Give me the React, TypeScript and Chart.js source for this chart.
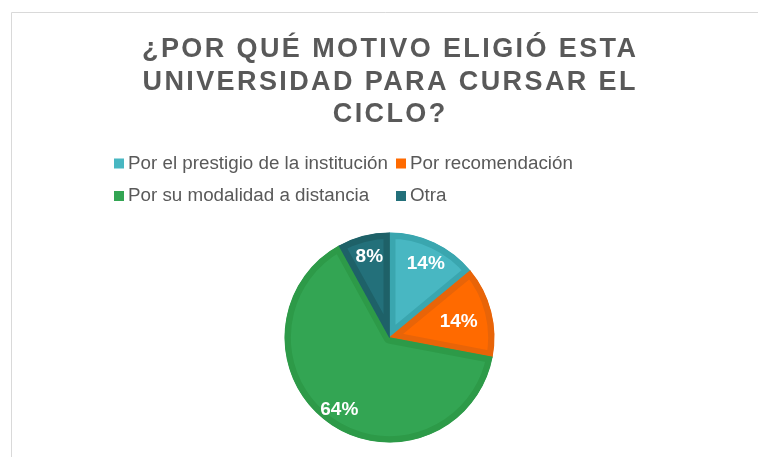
import React, { useEffect, useRef } from "react";
import { Chart, registerables } from "chart.js";

Chart.register(...registerables);

const titleLines = ["¿POR QUÉ MOTIVO ELIGIÓ ESTA", "UNIVERSIDAD PARA CURSAR EL", "CICLO?"];
const categories = [
  "Por el prestigio de la institución",
  "Por recomendación",
  "Por su modalidad a distancia",
  "Otra",
];
const values = [14, 14, 64, 8];
const fillColors = ["#48B7C2", "#FF6A00", "#33A553", "#23707A"];
const borderColors = ["#3AA6AF", "#E86408", "#2D9A48", "#1E6168"];
const labelRadius = [0.79, 0.67, 0.83, 0.81];

const FONT = "'Liberation Sans', Arial, sans-serif";

const decorPlugin = {
  id: "decor",
  beforeDraw(chart: any) {
    const ctx = chart.ctx;
    ctx.save();
    ctx.strokeStyle = "#D9D9D9";
    ctx.lineWidth = 1;
    ctx.beginPath();
    ctx.moveTo(11.5, 460);
    ctx.lineTo(11.5, 12.5);
    ctx.lineTo(760, 12.5);
    ctx.stroke();

    // title
    const spacing = 2.4;
    ctx.fillStyle = "#595959";
    ctx.font = `bold 27px ${FONT}`;
    ctx.textAlign = "center";
    ctx.textBaseline = "alphabetic";
    try {
      (ctx as any).letterSpacing = spacing + "px";
    } catch (e) {}
    const baselines = [57, 89.5, 122];
    titleLines.forEach((t, i) => ctx.fillText(t, 389 + spacing / 2, baselines[i]));
    try {
      (ctx as any).letterSpacing = "0px";
    } catch (e) {}

    // legend
    ctx.font = `18.8px ${FONT}`;
    ctx.textAlign = "left";
    ctx.textBaseline = "middle";
    const colX = [114, 396];
    const rowY = [163.5, 196];
    categories.forEach((c, i) => {
      const col = i % 2;
      const row = Math.floor(i / 2);
      ctx.fillStyle = fillColors[i];
      ctx.fillRect(colX[col], rowY[row] - 5, 10, 10);
      ctx.fillStyle = "#595959";
      ctx.fillText(c, colX[col] + 14, rowY[row]);
    });
    ctx.restore();
  },
  afterDatasetsDraw(chart: any) {
    const ctx = chart.ctx;
    const meta = chart.getDatasetMeta(0);
    const total = values.reduce((a, b) => a + b, 0);
    ctx.save();
    ctx.fillStyle = "#FFFFFF";
    ctx.font = `bold 19px ${FONT}`;
    ctx.textAlign = "center";
    ctx.textBaseline = "middle";
    meta.data.forEach((arc: any, i: number) => {
      const { x, y, startAngle, endAngle, outerRadius } = arc.getProps(
        ["x", "y", "startAngle", "endAngle", "outerRadius"],
        true
      );
      const mid = (startAngle + endAngle) / 2;
      const r = outerRadius * labelRadius[i];
      const pct = Math.round((values[i] / total) * 100) + "%";
      ctx.fillText(pct, x + Math.cos(mid) * r + 1, y + Math.sin(mid) * r + 1.5);
    });
    ctx.restore();
  },
};

export default function App() {
  const ref = useRef<HTMLCanvasElement | null>(null);
  useEffect(() => {
    if (!ref.current) return;
    const chart = new Chart(ref.current, {
      type: "pie",
      data: {
        labels: categories,
        datasets: [
          {
            data: values,
            backgroundColor: fillColors,
            borderColor: borderColors,
            borderWidth: 6,
            borderAlign: "inner",
            hoverOffset: 0,
            offset: 0,
          } as any,
        ],
      },
      options: {
        animation: false,
        responsive: false,
        devicePixelRatio: 1,
        layout: { padding: { top: 232.5, bottom: 14.5, left: 100, right: 79 } },
        plugins: {
          legend: { display: false },
          title: { display: false },
          tooltip: { enabled: false },
        },
        events: [],
      },
      plugins: [decorPlugin],
    });
    return () => chart.destroy();
  }, []);
  return (
    <div style={{ position: "fixed", left: 0, top: 0, width: 758, height: 457, background: "#fff" }}>
      <canvas ref={ref} width={758} height={457} style={{ width: 758, height: 457, display: "block" }} />
    </div>
  );
}
